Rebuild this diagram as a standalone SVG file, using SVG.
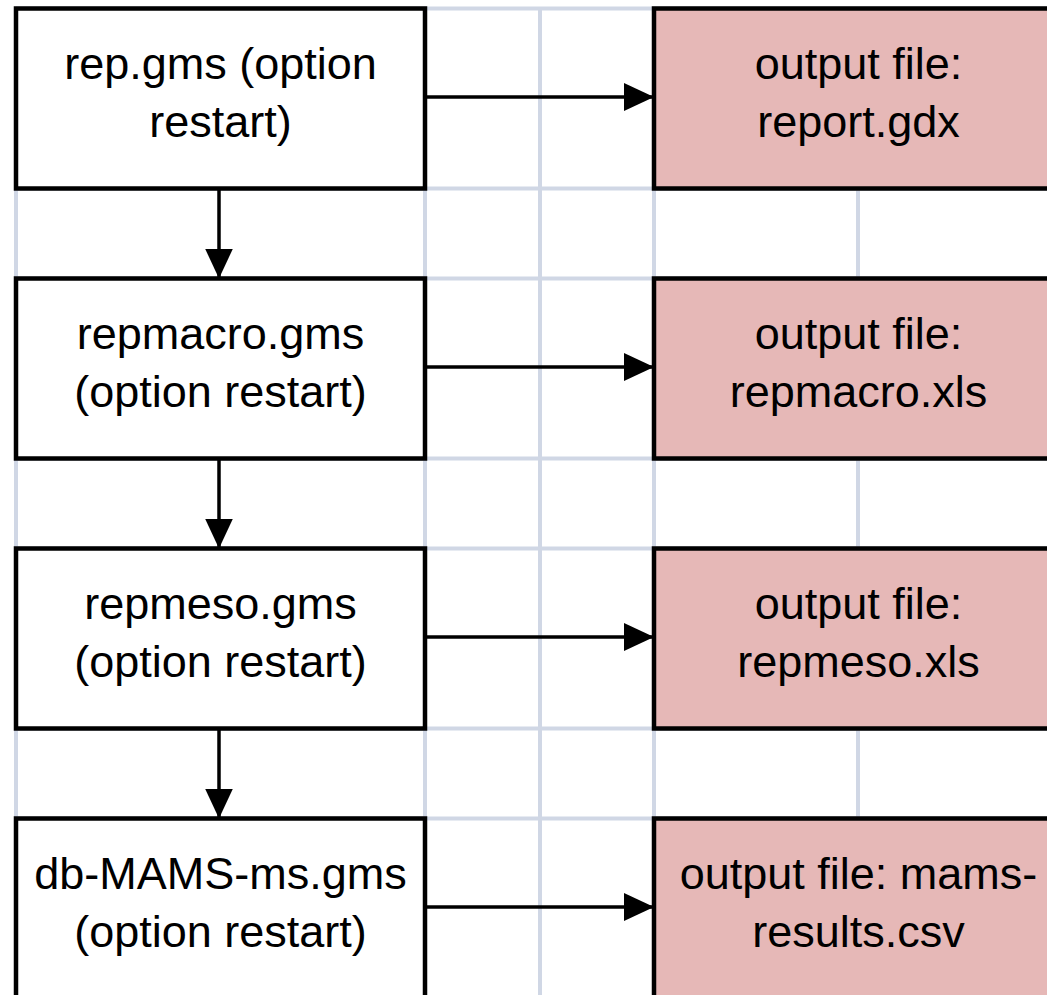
<svg xmlns="http://www.w3.org/2000/svg" width="1047" height="995" viewBox="0 0 1047 995">
  <style>
    .grid { stroke: #D0D7E5; stroke-width: 4; fill: none; }
    .src { fill: #FFFFFF; stroke: #000000; stroke-width: 4.5; }
    .out { fill: #E6B8B7; stroke: #000000; stroke-width: 4.5; }
    .lbl { font-family: "Liberation Sans", Arial, sans-serif; font-size: 45px; fill: #000000; text-anchor: middle; }
    .conn { stroke: #000000; stroke-width: 3.5; fill: none; }
  </style>
  <defs>
    <marker id="ah" markerUnits="userSpaceOnUse" markerWidth="30" markerHeight="28" refX="30" refY="14" orient="auto">
      <path d="M0,0 L30,14 L0,28 Z" fill="#000000"/>
    </marker>
  </defs>
  <rect x="0" y="0" width="1047" height="995" fill="#FFFFFF"/>
  <g id="grid" class="grid">
    <line x1="16" y1="8.5" x2="16" y2="995"/>
    <line x1="425" y1="8.5" x2="425" y2="995"/>
    <line x1="540" y1="8.5" x2="540" y2="995"/>
    <line x1="654" y1="8.5" x2="654" y2="995"/>
    <line x1="858" y1="8.5" x2="858" y2="995"/>
    <line x1="16" y1="8.5" x2="1047" y2="8.5"/>
    <line x1="16" y1="188.5" x2="1047" y2="188.5"/>
    <line x1="16" y1="278.5" x2="1047" y2="278.5"/>
    <line x1="16" y1="458.5" x2="1047" y2="458.5"/>
    <line x1="16" y1="548.5" x2="1047" y2="548.5"/>
    <line x1="16" y1="728.5" x2="1047" y2="728.5"/>
    <line x1="16" y1="818.5" x2="1047" y2="818.5"/>
  </g>
  <g id="node-rep">
    <rect class="src" x="16" y="8.5" width="409" height="180"/>
    <text class="lbl" x="220.5" y="79">rep.gms (option</text>
    <text class="lbl" x="220.5" y="137">restart)</text>
  </g>
  <g id="node-report">
    <rect class="out" x="654" y="8.5" width="409" height="180"/>
    <text class="lbl" x="858.5" y="79">output file:</text>
    <text class="lbl" x="858.5" y="137">report.gdx</text>
  </g>
  <g id="node-repmacro">
    <rect class="src" x="16" y="278.5" width="409" height="180"/>
    <text class="lbl" x="220.5" y="349">repmacro.gms</text>
    <text class="lbl" x="220.5" y="407">(option restart)</text>
  </g>
  <g id="node-repmacro-out">
    <rect class="out" x="654" y="278.5" width="409" height="180"/>
    <text class="lbl" x="858.5" y="349">output file:</text>
    <text class="lbl" x="858.5" y="407">repmacro.xls</text>
  </g>
  <g id="node-repmeso">
    <rect class="src" x="16" y="548.5" width="409" height="180"/>
    <text class="lbl" x="220.5" y="619">repmeso.gms</text>
    <text class="lbl" x="220.5" y="677">(option restart)</text>
  </g>
  <g id="node-repmeso-out">
    <rect class="out" x="654" y="548.5" width="409" height="180"/>
    <text class="lbl" x="858.5" y="619">output file:</text>
    <text class="lbl" x="858.5" y="677">repmeso.xls</text>
  </g>
  <g id="node-dbmams">
    <rect class="src" x="16" y="818.5" width="409" height="180"/>
    <text class="lbl" x="220.5" y="889">db-MAMS-ms.gms</text>
    <text class="lbl" x="220.5" y="947">(option restart)</text>
  </g>
  <g id="node-dbmams-out">
    <rect class="out" x="654" y="818.5" width="409" height="180"/>
    <text class="lbl" x="858.5" y="889">output file: mams-</text>
    <text class="lbl" x="858.5" y="947">results.csv</text>
  </g>
  <g id="connectors" class="conn">
    <line x1="425" y1="97" x2="654" y2="97" marker-end="url(#ah)"/>
    <line x1="425" y1="367" x2="654" y2="367" marker-end="url(#ah)"/>
    <line x1="425" y1="637" x2="654" y2="637" marker-end="url(#ah)"/>
    <line x1="425" y1="907" x2="654" y2="907" marker-end="url(#ah)"/>
    <line x1="219" y1="188.5" x2="219" y2="278.5" marker-end="url(#ah)"/>
    <line x1="219" y1="458.5" x2="219" y2="548.5" marker-end="url(#ah)"/>
    <line x1="219" y1="728.5" x2="219" y2="818.5" marker-end="url(#ah)"/>
  </g>
</svg>
